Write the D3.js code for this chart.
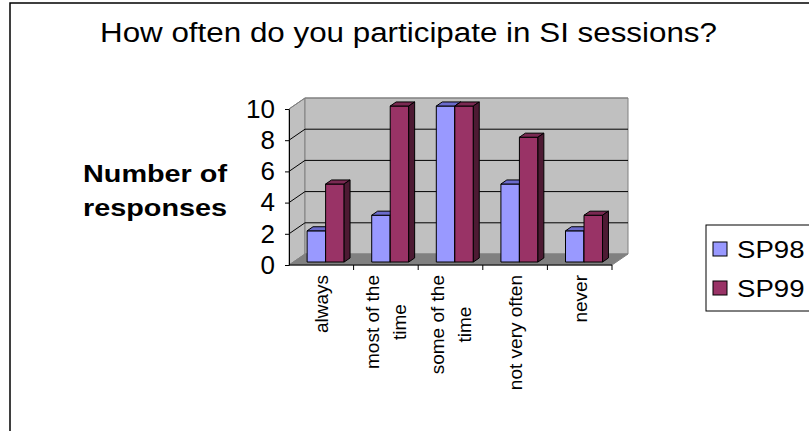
<!DOCTYPE html>
<html>
<head>
<meta charset="utf-8">
<script src="https://cdn.jsdelivr.net/npm/d3@7"></script>
<style>
    body { margin: 0; background: #fff; }
    svg { display: block; }
    text { font-family: "Liberation Sans", Arial, sans-serif; fill: #000; }
</style>
</head>
<body>
<script>
//chart data
var categories = ["always", "most of the time", "some of the time", "not very often", "never"];
var labelLines = [["always"], ["most of the", "time"], ["some of the", "time"], ["not very often"], ["never"]];
var seriesNames = ["SP98", "SP99"];
var sp98 = [2, 3, 10, 5, 2];
var sp99 = [5, 10, 10, 8, 3];
var yTicks = [0, 2, 4, 6, 8, 10];

window.onload = drawChart();

function drawChart(){
    var width = 809,
        height = 431;

    var svg = d3.select("body")
        .append("svg")
        .attr("width", width)
        .attr("height", height);

    //outer chart border (runs off the right and bottom)
    svg.append("rect")
        .attr("x", 10).attr("y", 3)
        .attr("width", 820).attr("height", 440)
        .attr("fill", "#fff")
        .attr("stroke", "#000")
        .attr("stroke-width", 1.5);

    //title
    svg.append("text")
        .attr("x", 100).attr("y", 42)
        .attr("font-size", 27)
        .attr("textLength", 617)
        .attr("lengthAdjust", "spacingAndGlyphs")
        .text("How often do you participate in SI sessions?");

    //scales for the front plane
    var x = d3.scaleBand()
        .domain(categories)
        .range([289, 612]);
    var y = d3.scaleLinear()
        .domain([0, 10])
        .range([265, 109]);
    var xs = d3.scaleBand()
        .domain(seriesNames)
        .range([0, x.bandwidth()])
        .paddingInner(0)
        .paddingOuter(0.745);

    //depth offset of the 3d box
    var dx = 16, dy = -11;
    function pt(px, py, t){ return [px + dx * t, py + dy * t]; }
    var line = d3.line();

    var x0 = x.range()[0], x1 = x.range()[1];

    //side wall
    svg.append("path")
        .attr("d", line([pt(x0, y(10), 0), pt(x0, y(10), 1), pt(x0, y(0), 1), pt(x0, y(0), 0)]) + "Z")
        .attr("fill", "#c0c0c0")
        .attr("stroke", "#808080");

    //back wall
    svg.append("path")
        .attr("d", line([pt(x0, y(10), 1), pt(x1, y(10), 1), pt(x1, y(0), 1), pt(x0, y(0), 1)]) + "Z")
        .attr("fill", "#c0c0c0")
        .attr("stroke", "#808080");

    //gridlines on side and back walls
    svg.selectAll(".grid")
        .data(yTicks.filter(function(d){ return d > 0 && d < 10; }))
        .enter()
        .append("path")
        .attr("class", "grid")
        .attr("d", function(d){
            return line([pt(x0, y(d), 0), pt(x0, y(d), 1), pt(x1, y(d), 1)]);
        })
        .attr("fill", "none")
        .attr("stroke", "#000");

    //top edge of walls
    svg.append("path")
        .attr("d", line([pt(x0, y(10), 0), pt(x0, y(10), 1), pt(x1, y(10), 1)]))
        .attr("fill", "none")
        .attr("stroke", "#808080");

    //floor
    svg.append("path")
        .attr("d", line([pt(x0, y(0), 0), pt(x1, y(0), 0), pt(x1, y(0), 1), pt(x0, y(0), 1)]) + "Z")
        .attr("fill", "#808080")
        .attr("stroke", "#808080");

    //bars: front face, top face and right side
    var t0 = 0.27, t1 = 0.64;
    var colors = { SP98: ["#9999ff", "#6b6bcc", "#4d4d80"], SP99: ["#993366", "#7a2952", "#4d1a33"] };
    var bars = [];
    categories.forEach(function(c, i){
        bars.push({ cat: c, s: "SP98", v: sp98[i] });
        bars.push({ cat: c, s: "SP99", v: sp99[i] });
    });

    var g = svg.selectAll(".bar")
        .data(bars)
        .enter()
        .append("g")
        .attr("class", "bar");

    function corners(d){
        var bl = x(d.cat) + xs(d.s), br = bl + xs.bandwidth();
        return { bl: bl, br: br, top: y(d.v), bot: y(0) };
    }

    g.append("path") //front
        .attr("d", function(d){
            var k = corners(d);
            return line([pt(k.bl, k.top, t0), pt(k.br, k.top, t0), pt(k.br, k.bot, t0), pt(k.bl, k.bot, t0)]) + "Z";
        })
        .attr("fill", function(d){ return colors[d.s][0]; })
        .attr("stroke", "#000");

    g.append("path") //top
        .attr("d", function(d){
            var k = corners(d);
            return line([pt(k.bl, k.top, t0), pt(k.bl, k.top, t1), pt(k.br, k.top, t1), pt(k.br, k.top, t0)]) + "Z";
        })
        .attr("fill", function(d){ return colors[d.s][1]; })
        .attr("stroke", "#000");

    g.append("path") //side
        .attr("d", function(d){
            var k = corners(d);
            return line([pt(k.br, k.top, t0), pt(k.br, k.top, t1), pt(k.br, k.bot, t1), pt(k.br, k.bot, t0)]) + "Z";
        })
        .attr("fill", function(d){ return colors[d.s][2]; })
        .attr("stroke", "#000");

    //y axis
    var yAxis = svg.append("g")
        .attr("transform", "translate(" + x0 + ",0)")
        .call(d3.axisLeft(y).tickValues(yTicks).tickSize(4).tickPadding(10).tickSizeOuter(0));
    yAxis.select(".domain").attr("stroke", "#000");
    yAxis.selectAll("line").attr("stroke", "#000");
    yAxis.selectAll("text")
        .attr("font-size", 26)
        .attr("font-family", "Liberation Sans, Arial, sans-serif")
        .attr("fill", "#000");

    //x axis line and ticks at category boundaries
    svg.append("line")
        .attr("x1", x0).attr("x2", x1)
        .attr("y1", y(0)).attr("y2", y(0))
        .attr("stroke", "#000");
    svg.selectAll(".xtick")
        .data(categories)
        .enter()
        .append("line")
        .attr("class", "xtick")
        .attr("x1", function(d){ return x(d) + x.bandwidth(); })
        .attr("x2", function(d){ return x(d) + x.bandwidth(); })
        .attr("y1", y(0)).attr("y2", y(0) + 5)
        .attr("stroke", "#000");

    //category labels, rotated; lines centred on each other, block hangs from the axis
    svg.selectAll(".xlabel")
        .data(categories)
        .enter()
        .append("text")
        .attr("class", "xlabel")
        .attr("text-anchor", "middle")
        .attr("font-size", 19)
        .each(function(d, i){
            var lines = labelLines[i];
            var sel = d3.select(this);
            lines.forEach(function(l, j){
                sel.append("tspan")
                    .attr("x", 0)
                    .attr("y", (j - (lines.length - 1) / 2) * 27 + 7)
                    .text(l);
            });
            var maxLen = d3.max(sel.selectAll("tspan").nodes(), function(n){ return n.getComputedTextLength(); });
            sel.attr("transform", "translate(" + (x(d) + x.bandwidth() / 2) + "," + (275 + maxLen / 2) + ") rotate(-90)");
        });

    //y axis title (stretched a little wider, as in the original)
    svg.append("text")
        .attr("text-anchor", "middle")
        .attr("font-size", 24)
        .attr("font-weight", "bold")
        .attr("transform", "translate(155,0) scale(1.2,1)")
        .selectAll("tspan")
        .data(["Number of", "responses"])
        .enter()
        .append("tspan")
        .attr("x", 0)
        .attr("y", function(d, i){ return 182 + i * 34; })
        .text(function(d){ return d; });

    //legend
    svg.append("rect")
        .attr("x", 706).attr("y", 225)
        .attr("width", 120).attr("height", 86)
        .attr("fill", "#fff")
        .attr("stroke", "#000");
    var leg = svg.selectAll(".legend")
        .data(seriesNames)
        .enter()
        .append("g")
        .attr("class", "legend")
        .attr("transform", function(d, i){ return "translate(713," + (242 + i * 39) + ")"; });
    leg.append("rect")
        .attr("width", 14).attr("height", 14)
        .attr("fill", function(d){ return colors[d][0]; })
        .attr("stroke", "#000");
    leg.append("text")
        .attr("transform", "translate(24,16) scale(1.2,1)")
        .attr("font-size", 23)
        .text(function(d){ return d; });
}
</script>
</body>
</html>
